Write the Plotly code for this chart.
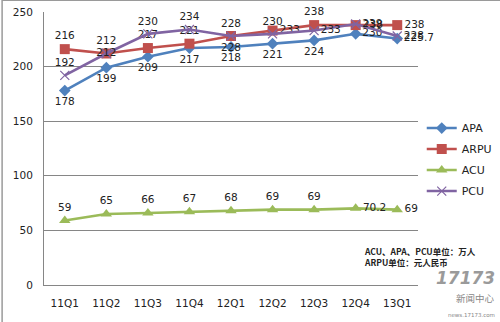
import plotly.graph_objects as go

categories = ["11Q1", "11Q2", "11Q3", "11Q4", "12Q1", "12Q2", "12Q3", "12Q4", "13Q1"]
apa = [178, 199, 209, 217, 218, 221, 224, 230, 225.7]
arpu = [216, 212, 217, 221, 228, 233, 238, 238, 238]
acu = [59, 65, 66, 67, 68, 69, 69, 70.2, 69]
pcu = [192, 212, 230, 234, 228, 230, 233, 239, 228]
y_ticks = [0, 50, 100, 150, 200, 250]

apa_pos = ["bottom center"] * 7 + ["middle right", "middle right"]
arpu_pos = ["top center", "top center", "top center", "top center", "bottom center",
            "middle right", "top center", "middle right", "middle right"]
acu_pos = ["top center"] * 7 + ["middle right", "middle right"]
pcu_pos = ["top center", "middle center", "top center", "top center", "top center",
           "top center", "middle right", "middle right", "middle right"]

FONT = "DejaVu Sans"
tfont = dict(family=FONT, size=10.5, color="#222222")

def fmt(v):
    return str(int(v)) if float(v).is_integer() else str(v)

fig = go.Figure()
series = [
    ("APA", apa, "#4F81BD", dict(symbol="diamond", size=9), apa_pos),
    ("ARPU", arpu, "#C0504D", dict(symbol="square", size=10), arpu_pos),
    ("ACU", acu, "#9BBB59", dict(symbol="triangle-up", size=10), acu_pos),
    ("PCU", pcu, "#8064A2", dict(symbol="x-thin", size=9, line=dict(width=1.2, color="#8064A2")), pcu_pos),
]
for name, vals, color, mk, pos in series:
    fig.add_trace(go.Scatter(
        x=categories, y=vals, name=name, legendgroup=name, mode="lines+markers+text",
        line=dict(color=color, width=2.6),
        marker=dict(color=color, **mk),
        text=[fmt(v) for v in vals], textposition=pos, textfont=tfont,
        cliponaxis=False,
    ))

fig.add_annotation(xref="paper", yref="paper", x=0.85, y=0.155, xanchor="left", yanchor="top",
                   text="<b>ACU、APA、PCU单位：万人</b><br><b>ARPU单位：元人民币</b>",
                   showarrow=False, align="left",
                   font=dict(family="Noto Sans CJK SC", size=8.5, color="#222222"))
fig.add_annotation(xref="paper", yref="paper", x=1.21, y=-0.02, xanchor="right", yanchor="bottom",
                   text="<b><i>17173</i></b>", showarrow=False,
                   font=dict(family=FONT, size=17, color="#9a9a9a"))
fig.add_annotation(xref="paper", yref="paper", x=1.21, y=-0.08, xanchor="right", yanchor="bottom",
                   text="新闻中心", showarrow=False,
                   font=dict(family="Noto Sans CJK SC", size=9.5, color="#888888"))
fig.add_annotation(xref="paper", yref="paper", x=1.21, y=-0.13, xanchor="right", yanchor="bottom",
                   text="news.17173.com", showarrow=False,
                   font=dict(family=FONT, size=5.5, color="#888888"))

# outer frame (left and top edges)
fig.add_shape(type="line", xref="paper", yref="paper", x0=-0.112, x1=-0.112, y0=-0.14, y1=1.044,
              line=dict(color="#9a9a9a", width=1.5))
fig.add_shape(type="line", xref="paper", yref="paper", x0=-0.112, x1=1.22, y0=1.043, y1=1.043,
              line=dict(color="#9a9a9a", width=1.5))

fig.update_layout(
    width=500, height=322,
    margin=dict(l=44, r=82, t=12, b=37, autoexpand=False),
    paper_bgcolor="white", plot_bgcolor="white",
    showlegend=True,
    legend=dict(x=1.01, y=0.628, xanchor="left", yanchor="top",
                font=dict(family=FONT, size=11, color="#222222"),
                itemwidth=30, bgcolor="rgba(0,0,0,0)",
                traceorder="grouped", tracegroupgap=2),
    font=dict(family=FONT, size=10.5, color="#222222"),
)
fig.update_xaxes(type="category", range=[-0.5, 8.5], showgrid=False,
                 showline=True, linecolor="#868686", linewidth=1,
                 ticks="", ticklabelstandoff=8, tickfont=dict(family=FONT, size=10.5, color="#222222"))
fig.update_yaxes(range=[0, 250], tickvals=y_ticks, showgrid=True, gridcolor="#868686", gridwidth=1,
                 showline=True, linecolor="#868686", linewidth=1, zeroline=False,
                 ticks="", ticklabelstandoff=8, tickfont=dict(family=FONT, size=10.5, color="#222222"))

fig.write_html("out.html")
